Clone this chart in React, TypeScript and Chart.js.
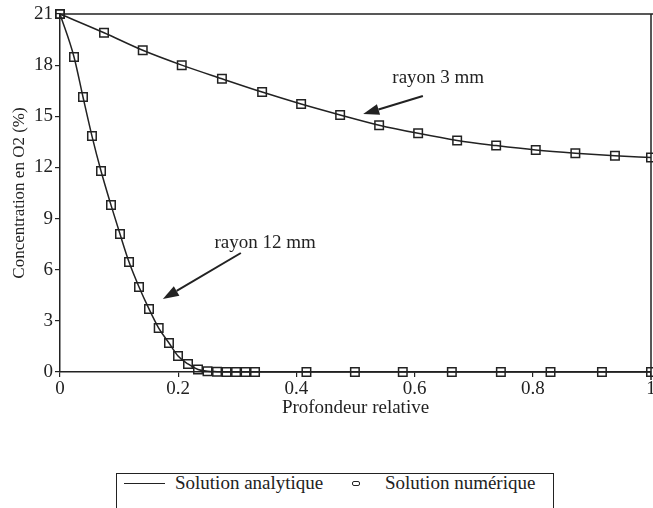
import React, { useEffect, useRef } from "react";
import { Chart, registerables } from "chart.js";

Chart.register(...registerables);

const FONT = "'Liberation Serif', 'Times New Roman', Times, serif";
const INK = "#222222";

// Axis ticks
const xTickValues = [0, 0.2, 0.4, 0.6, 0.8, 1];
const yTickValues = [0, 3, 6, 9, 12, 15, 18, 21];

// rayon 3 mm
const r3X = [0, 0.0745, 0.14, 0.206, 0.274, 0.342, 0.408, 0.474, 0.54, 0.606, 0.672, 0.738, 0.805, 0.872, 0.939, 1.0];
const r3Y = [21, 19.9, 18.87, 18.0, 17.2, 16.42, 15.72, 15.08, 14.48, 14.0, 13.58, 13.28, 13.02, 12.83, 12.68, 12.58];

// rayon 12 mm
const r12X = [0, 0.0237, 0.0389, 0.0541, 0.0694, 0.0863, 0.1015, 0.1168, 0.1337, 0.1506, 0.167, 0.1844, 0.1997, 0.2166, 0.2335, 0.2496, 0.2657, 0.2818, 0.2979, 0.314, 0.33, 0.417, 0.499, 0.58, 0.663, 0.746, 0.83, 0.917, 1.0];
const r12Y = [21, 18.48, 16.13, 13.84, 11.79, 9.79, 8.09, 6.45, 4.99, 3.7, 2.58, 1.7, 0.94, 0.47, 0.15, 0.05, 0.02, 0, 0, 0, 0, 0, 0, 0, 0, 0, 0, 0, 0];

// Annotations (data units)
const noteTexts = ["rayon 3 mm", "rayon 12 mm"];
const noteTextPos = [[0.64, 17.27], [0.347, 7.54]];
const arrowFrom = [[0.614, 16.19], [0.306, 6.98]];
const arrowTo = [[0.513, 15.13], [0.174, 4.28]];

// Legend
const legendLabels = ["Solution analytique", "Solution numérique"];

const toPts = (xs: number[], ys: number[]) => xs.map((x, i) => ({ x, y: ys[i] }));

const framePlugin = {
  id: "frameAndNotes",
  afterDatasetsDraw(chart: any) {
    const { ctx, chartArea, scales } = chart;
    const xs = scales.x;
    const ys = scales.y;
    ctx.save();
    ctx.strokeStyle = INK;
    ctx.lineWidth = 1.5;
    ctx.beginPath();
    ctx.moveTo(chartArea.left, chartArea.top);
    ctx.lineTo(chartArea.right + 4, chartArea.top);
    ctx.moveTo(chartArea.right, chartArea.top);
    ctx.lineTo(chartArea.right, chartArea.bottom + 8);
    ctx.stroke();

    ctx.fillStyle = INK;
    ctx.font = `19px ${FONT}`;
    ctx.textAlign = "center";
    ctx.textBaseline = "middle";
    noteTexts.forEach((t, i) => {
      ctx.fillText(t, xs.getPixelForValue(noteTextPos[i][0]), ys.getPixelForValue(noteTextPos[i][1]));
      const x1 = xs.getPixelForValue(arrowFrom[i][0]);
      const y1 = ys.getPixelForValue(arrowFrom[i][1]);
      const x2 = xs.getPixelForValue(arrowTo[i][0]);
      const y2 = ys.getPixelForValue(arrowTo[i][1]);
      const ang = Math.atan2(y2 - y1, x2 - x1);
      const hl = 16;
      const hw = 5.5;
      const bx = x2 - hl * Math.cos(ang);
      const by = y2 - hl * Math.sin(ang);
      ctx.lineWidth = 2;
      ctx.beginPath();
      ctx.moveTo(x1, y1);
      ctx.lineTo(bx, by);
      ctx.stroke();
      ctx.beginPath();
      ctx.moveTo(x2, y2);
      ctx.lineTo(bx + hw * Math.sin(ang), by - hw * Math.cos(ang));
      ctx.lineTo(bx - hw * Math.sin(ang), by + hw * Math.cos(ang));
      ctx.closePath();
      ctx.fill();
    });
    ctx.restore();
  },
};

export default function App() {
  const ref = useRef<HTMLCanvasElement>(null);

  useEffect(() => {
    if (!ref.current) return;
    const lineDs = (xs: number[], ys: number[]) => ({
      data: toPts(xs, ys),
      showLine: true,
      borderColor: INK,
      borderWidth: 1.5,
      pointRadius: 0,
      cubicInterpolationMode: "monotone",
      clip: false,
    });
    const markDs = (xs: number[], ys: number[]) => ({
      data: toPts(xs, ys),
      showLine: false,
      pointStyle: "rect",
      pointRadius: 6,
      pointBorderWidth: 1.5,
      pointBorderColor: INK,
      pointBackgroundColor: "rgba(255,255,255,0)",
      borderColor: INK,
      clip: false,
    });
    const chart = new Chart(ref.current, {
      type: "scatter",
      data: {
        datasets: [
          lineDs(r3X, r3Y),
          lineDs(r12X, r12Y),
          markDs(r3X, r3Y),
          markDs(r12X, r12Y),
        ] as any,
      },
      plugins: [framePlugin],
      options: {
        animation: false,
        responsive: false,
        layout: { padding: { left: 0, right: 49, top: 14, bottom: 8 } },
        plugins: { legend: { display: false }, tooltip: { enabled: false } },
        scales: {
          x: {
            type: "linear",
            min: 0,
            max: 1,
            afterBuildTicks: (s: any) => {
              s.ticks = xTickValues.map((v) => ({ value: v }));
            },
            afterFit: (s: any) => {
              s.height = 50;
              s.paddingLeft = 0;
              s.paddingRight = 0;
            },
            ticks: {
              color: INK,
              font: { family: FONT, size: 19 },
              padding: 1,
              maxRotation: 0,
              autoSkip: false,
              callback: (v: any) => String(v),
            },
            grid: { drawOnChartArea: false, drawTicks: true, tickLength: 5, color: INK, lineWidth: 1.2 },
            border: { display: true, color: INK, width: 1.5 },
            title: {
              display: true,
              text: "Profondeur relative",
              color: INK,
              font: { family: FONT, size: 19 },
              padding: { top: 0, bottom: 3 },
            },
          },
          y: {
            type: "linear",
            min: 0,
            max: 21,
            afterBuildTicks: (s: any) => {
              s.ticks = yTickValues.map((v) => ({ value: v }));
            },
            afterFit: (s: any) => {
              s.width = 60;
              s.paddingTop = 0;
              s.paddingBottom = 0;
            },
            ticks: {
              color: INK,
              font: { family: FONT, size: 19 },
              padding: 2,
              callback: (v: any) => String(v),
            },
            grid: { drawOnChartArea: false, drawTicks: true, tickLength: 5, color: INK, lineWidth: 1.2 },
            border: { display: true, color: INK, width: 1.5 },
            title: {
              display: true,
              text: "Concentration en O2 (%)",
              color: INK,
              font: { family: FONT, size: 17 },
              padding: { top: 9, bottom: 0 },
            },
          },
        },
      } as any,
    });
    return () => chart.destroy();
  }, []);

  const textStyle: React.CSSProperties = {
    position: "absolute",
    top: 473,
    fontFamily: FONT,
    fontSize: 19,
    lineHeight: "19px",
    color: INK,
    whiteSpace: "nowrap",
  };

  return (
    <div
      style={{
        position: "fixed",
        left: 0,
        top: 0,
        width: 653,
        height: 508,
        overflow: "hidden",
        background: "#fff",
      }}
    >
      <canvas ref={ref} width={700} height={430} style={{ position: "absolute", left: 0, top: 0 }} />
      <div
        style={{
          position: "absolute",
          left: 116,
          top: 473,
          width: 438,
          height: 60,
          border: `1.5px solid ${INK}`,
          boxSizing: "border-box",
        }}
      />
      <div style={{ position: "absolute", left: 124, top: 483, width: 41, height: 0, borderTop: `1.5px solid ${INK}` }} />
      <span style={{ ...textStyle, left: 175 }}>{legendLabels[0]}</span>
      <div
        style={{
          position: "absolute",
          left: 352,
          top: 481,
          width: 8,
          height: 5,
          border: `1.5px solid ${INK}`,
          borderRadius: 2,
          boxSizing: "border-box",
        }}
      />
      <span style={{ ...textStyle, left: 385 }}>{legendLabels[1]}</span>
    </div>
  );
}
